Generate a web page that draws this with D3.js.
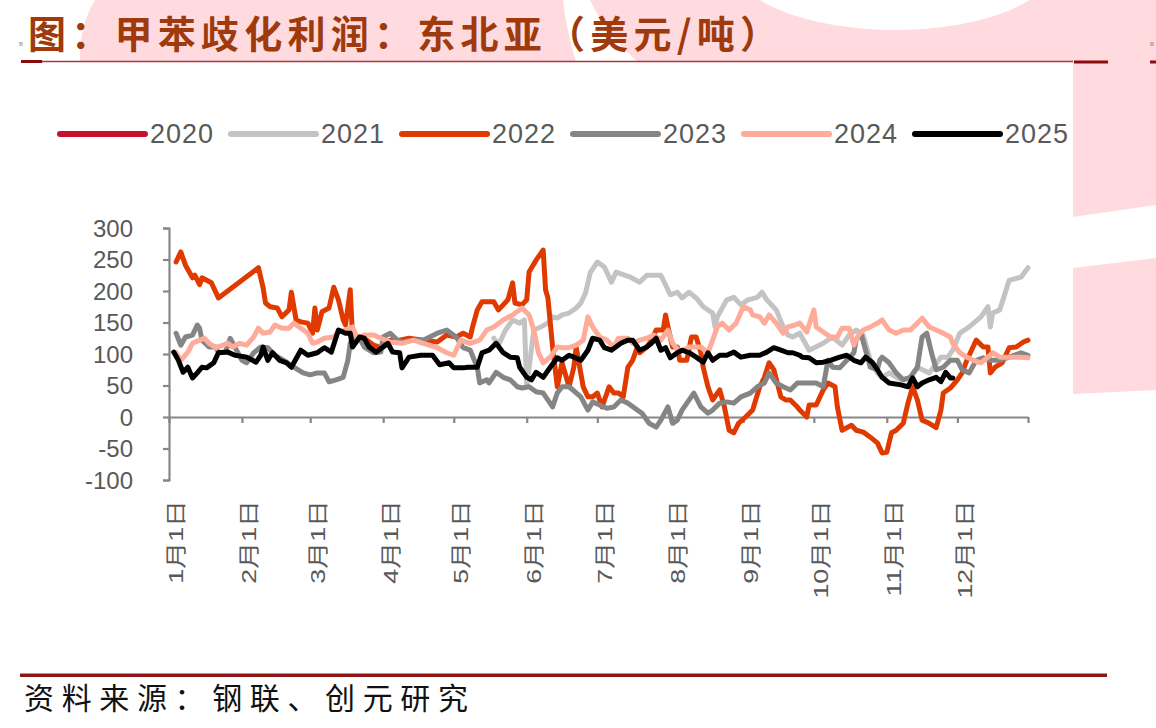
<!DOCTYPE html>
<html><head><meta charset="utf-8">
<script src="https://cdn.jsdelivr.net/npm/d3@7"></script>
<style>body{margin:0;background:#fff}svg{display:block}</style>
</head><body><svg id="c" width="1156" height="728"></svg>
<script>
const titleText = "图：甲苯歧化利润：东北亚（美元/吨）";
const sourceText = "资料来源：钢联、创元研究";
const years = ["2020","2021","2022","2023","2024","2025"];
const yTicks = [-100,-50,0,50,100,150,200,250,300];
const monthLabels = ["1月1日","2月1日","3月1日","4月1日","5月1日","6月1日","7月1日","8月1日","9月1日","10月1日","11月1日","12月1日"];
const monthStartDays = [0,31,60,91,121,152,182,213,244,274,305,335];
const yearEndDay = 365;

// [day of year, value]
const s2020 = [];
const s2021 = [[138,125],[140,114],[143,138],[146,154],[149,149],[151,154],[152,48],[155,138],[158,143],[161,149],[163,159],[165,157],[167,162],[170,165],[173,173],[175,181],[177,197],[179,229],[182,246],[185,238],[188,214],[190,230],[196,222],[200,214],[203,225],[209,225],[213,194],[216,198],[218,189],[221,198],[224,189],[227,175],[231,165],[232,143],[233,159],[237,186],[240,190],[243,178],[246,186],[250,190],[252,198],[254,186],[258,170],[261,143],[263,130],[265,127],[268,133],[272,106],[278,117],[282,127],[286,114],[289,130],[292,138],[295,130],[298,90],[301,70],[303,63],[306,70],[311,59],[315,63],[318,79],[323,70],[328,95],[331,95],[333,106],[336,133],[340,143],[345,159],[348,175],[349,143],[350,165],[353,170],[357,217],[362,222],[365,237]];
const s2022 = [[3,246],[5,262],[7,241],[10,221],[11,225],[13,210],[14,221],[18,213],[21,189],[38,237],[40,205],[41,181],[43,175],[46,173],[48,159],[51,170],[52,198],[54,154],[56,151],[59,149],[61,133],[62,173],[63,138],[65,167],[68,173],[70,206],[72,186],[74,154],[75,146],[77,202],[78,127],[81,127],[84,122],[87,114],[90,110],[94,122],[98,122],[102,125],[108,122],[114,119],[118,130],[122,127],[125,133],[128,127],[129,143],[131,170],[133,183],[138,183],[140,170],[142,178],[144,186],[146,213],[147,181],[150,178],[152,186],[153,230],[156,249],[159,265],[160,202],[161,189],[163,111],[165,48],[167,86],[170,48],[172,79],[173,111],[176,48],[178,32],[180,32],[182,38],[184,16],[187,48],[189,38],[191,38],[193,32],[195,79],[197,90],[199,111],[200,102],[203,111],[205,122],[207,138],[210,138],[211,162],[212,143],[214,111],[216,111],[217,90],[220,90],[222,127],[224,127],[226,102],[227,79],[229,48],[231,27],[234,43],[236,16],[238,-21],[240,-25],[242,-10],[245,0],[248,11],[251,48],[253,63],[255,86],[257,75],[260,32],[262,27],[264,27],[267,16],[268,11],[271,0],[272,19],[275,19],[278,43],[280,54],[283,48],[284,16],[286,-21],[290,-13],[292,-21],[295,-24],[298,-32],[301,-41],[303,-57],[305,-56],[307,-25],[309,-21],[312,-10],[314,22],[316,48],[318,27],[320,-5],[323,-10],[326,-17],[328,11],[329,38],[332,46],[335,59],[337,70],[339,90],[341,106],[343,122],[346,111],[348,111],[349,70],[351,79],[354,86],[357,110],[360,111],[363,119],[365,122]];
const s2023 = [[3,133],[5,114],[7,127],[10,130],[12,146],[13,141],[14,122],[17,111],[20,111],[21,102],[24,103],[26,125],[28,111],[31,90],[33,86],[36,102],[39,111],[42,110],[45,98],[50,87],[53,79],[57,70],[60,67],[63,70],[66,70],[68,56],[71,59],[74,63],[76,90],[77,117],[78,125],[81,125],[83,111],[87,102],[90,103],[91,127],[94,133],[97,122],[99,119],[104,122],[108,122],[114,133],[118,138],[122,127],[125,110],[128,106],[131,79],[132,54],[135,59],[136,54],[139,71],[142,63],[145,59],[148,48],[150,46],[153,48],[156,40],[159,38],[163,16],[165,38],[167,48],[170,48],[175,32],[178,11],[180,24],[183,19],[186,14],[189,16],[192,27],[195,22],[199,11],[201,6],[204,-10],[207,-16],[209,-5],[212,16],[214,-10],[216,-5],[218,11],[223,38],[226,16],[229,6],[231,11],[234,22],[237,24],[240,22],[243,32],[247,38],[250,48],[253,54],[255,70],[258,54],[261,48],[264,43],[267,54],[271,54],[275,54],[278,48],[280,90],[282,79],[285,78],[288,90],[291,102],[292,122],[294,133],[296,106],[298,79],[301,75],[302,90],[303,95],[306,86],[309,70],[312,59],[315,63],[318,79],[320,127],[322,133],[324,102],[326,75],[329,79],[332,90],[335,90],[337,75],[340,70],[343,90],[346,94],[349,90],[353,90],[357,95],[362,102],[365,98]];
const s2024 = [[3,102],[5,90],[8,103],[10,117],[13,122],[15,125],[17,117],[20,110],[23,114],[25,117],[27,111],[30,117],[33,114],[36,127],[38,141],[40,133],[43,135],[45,146],[48,141],[51,141],[53,149],[56,141],[59,133],[61,117],[63,119],[66,125],[70,127],[72,135],[75,138],[78,143],[80,125],[83,130],[87,130],[90,125],[94,119],[99,117],[104,122],[108,117],[114,110],[118,102],[121,98],[124,122],[128,117],[132,122],[135,138],[138,143],[142,154],[146,162],[150,173],[153,162],[155,138],[157,102],[159,86],[162,95],[165,111],[167,110],[170,110],[173,114],[176,122],[178,159],[180,143],[183,127],[186,122],[189,111],[191,125],[195,125],[197,117],[200,122],[203,125],[206,130],[209,122],[212,138],[214,117],[217,103],[221,111],[226,111],[229,102],[231,122],[233,143],[235,149],[238,138],[241,149],[244,175],[247,170],[248,162],[251,159],[253,149],[255,162],[258,149],[261,133],[263,143],[266,146],[268,149],[271,135],[274,170],[275,143],[278,135],[281,127],[284,127],[286,141],[289,141],[291,114],[293,130],[295,138],[298,143],[301,149],[303,154],[306,138],[309,133],[312,138],[315,138],[318,149],[320,157],[323,143],[326,138],[329,133],[332,127],[333,117],[336,102],[339,95],[342,90],[345,86],[348,95],[350,102],[353,95],[357,95],[362,95],[365,94]];
const s2025 = [[2,103],[4,90],[6,71],[8,79],[10,62],[12,70],[14,79],[16,78],[19,86],[21,102],[25,103],[28,98],[33,95],[37,87],[39,98],[40,111],[42,90],[44,102],[47,90],[50,86],[52,79],[56,106],[59,98],[63,102],[66,110],[69,103],[72,138],[75,133],[77,133],[78,111],[81,127],[83,125],[85,111],[88,103],[91,111],[93,117],[95,103],[98,102],[99,78],[102,95],[107,98],[112,98],[115,83],[119,86],[121,78],[125,78],[127,79],[131,79],[133,102],[136,106],[139,117],[142,102],[145,95],[148,94],[149,79],[152,63],[154,59],[156,71],[159,63],[162,79],[165,94],[167,90],[170,98],[172,95],[175,90],[178,106],[180,125],[183,122],[185,110],[188,106],[192,117],[195,122],[197,122],[200,106],[203,111],[205,117],[207,125],[209,106],[211,110],[213,94],[216,102],[218,106],[221,102],[224,95],[227,87],[229,102],[231,90],[234,98],[237,98],[240,103],[243,95],[247,98],[251,98],[254,103],[257,110],[260,106],[263,102],[265,102],[268,98],[269,95],[272,94],[275,86],[278,87],[281,90],[285,95],[288,98],[291,90],[294,86],[296,95],[299,86],[301,75],[303,63],[306,54],[311,51],[314,48],[316,62],[318,48],[320,54],[323,59],[326,63],[328,56],[330,71],[332,62],[333,62]];
const seriesData = [s2020,s2021,s2022,s2023,s2024,s2025];
const colors = ["#C8102E","#C3C3C3","#E03A00","#858585","#FFAB9A","#000000"];

const svg = d3.select("#c");
const pink = "#FFDADF";

// decorative background
svg.append("path").attr("fill",pink)
  .attr("d","M95,0 C84,18 79,40 80,62 L1156,62 L1156,0 Z");
svg.append("path").attr("fill","#fff")
  .attr("d","M563,0 L590,0 C600,22 618,45 638,62 L576,62 C570,42 565,20 563,0 Z");
svg.append("ellipse").attr("fill","#fff").attr("cx",895).attr("cy",-35).attr("rx",160).attr("ry",65);
svg.append("path").attr("fill",pink).attr("d","M1073,62 L1156,62 L1156,205 L1073,217 Z");
svg.append("path").attr("fill",pink).attr("d","M1073,268 L1156,258 L1156,390 L1073,394 Z");

// title
svg.append("text").attr("x",28).attr("y",31).attr("dominant-baseline","central")
  .attr("font-family","'Noto Sans CJK SC'").attr("font-weight",700)
  .attr("font-size",38).attr("fill","#9E3A0C")
  .attr("textLength",750).attr("lengthAdjust","spacing").text(titleText);
svg.append("text").attr("x",19).attr("y",46).attr("font-size",6).attr("fill","#888").attr("font-family","Liberation Sans").text("B");
svg.append("text").attr("x",1150).attr("y",46).attr("font-size",6).attr("fill","#888").attr("font-family","Liberation Sans").text("B");

// title rules
svg.append("line").attr("x1",21).attr("x2",1073).attr("y1",61.5).attr("y2",61.5).attr("stroke","#A8383C").attr("stroke-width",1.5);
svg.append("rect").attr("x",21).attr("y",60).attr("width",21).attr("height",3).attr("fill","#8B0A0A");
svg.append("rect").attr("x",1074).attr("y",60.5).attr("width",34).attr("height",3).attr("fill","#8B0A0A");
svg.append("rect").attr("x",1150).attr("y",60.5).attr("width",6).attr("height",3).attr("fill","#8B0A0A");

// scales
const x = d3.scaleLinear().domain([0,yearEndDay]).range([169,1028]);
const y = d3.scaleLinear().domain([-100,300]).range([480,228]);
const axisColor = "#878787";

// y axis
const gy = svg.append("g").attr("transform","translate(169,0)")
  .call(d3.axisLeft(y).tickValues(yTicks).tickSize(6).tickSizeOuter(6).tickFormat(""));
gy.selectAll("path,line").attr("stroke",axisColor).attr("stroke-width",2.2);
svg.append("g").selectAll("text").data(yTicks).join("text")
  .attr("x",133).attr("y",d=>y(d)).attr("text-anchor","end").attr("dominant-baseline","central")
  .attr("font-family","Liberation Sans, Arial").attr("font-size",24).attr("fill","#595959")
  .text(d=>d);

// x axis at zero
const gx = svg.append("g").attr("transform",`translate(0,${y(0)})`)
  .call(d3.axisBottom(x).tickValues(monthStartDays.concat([yearEndDay])).tickSize(6).tickSizeOuter(0).tickFormat(""));
gx.selectAll("path,line").attr("stroke",axisColor).attr("stroke-width",2.2);

svg.append("g").selectAll("text").data(monthLabels).join("text")
  .attr("transform",(d,i)=>`translate(${x(monthStartDays[i])+7},500) rotate(-90) scale(1.28,1)`)
  .attr("text-anchor","end").attr("dominant-baseline","central")
  .attr("font-family","Liberation Sans, 'Noto Sans CJK SC'").attr("font-size",21).attr("fill","#595959")
  .text(d=>d);

// lines
const line = d3.line().x(d=>x(d[0])).y(d=>y(d[1])).curve(d3.curveLinear);
svg.append("g").selectAll("path").data(seriesData).join("path")
  .attr("d",d=>d.length?line(d):null)
  .attr("fill","none").attr("stroke",(d,i)=>colors[i]).attr("stroke-width",5)
  .attr("stroke-linejoin","round").attr("stroke-linecap","round");

// legend
const legendX = [60,231,402,573,744,915];
const lg = svg.append("g").selectAll("g").data(years).join("g")
  .attr("transform",(d,i)=>`translate(${legendX[i]},134)`);
lg.append("line").attr("x1",0).attr("x2",85).attr("stroke",(d,i)=>colors[i]).attr("stroke-width",6).attr("stroke-linecap","round");
lg.append("text").attr("x",90).attr("dominant-baseline","central")
  .attr("font-family","Liberation Sans, Arial").attr("font-size",27).attr("letter-spacing",1).attr("fill","#595959")
  .text(d=>d);

// footer
svg.append("rect").attr("x",20).attr("y",673.5).attr("width",1087).attr("height",3.5).attr("fill","#8E1616");
svg.append("text").attr("x",24).attr("y",696).attr("dominant-baseline","central")
  .attr("font-family","'Noto Sans CJK SC'").attr("font-size",30).attr("fill","#111")
  .attr("textLength",444).attr("lengthAdjust","spacing").text(sourceText);
</script></body></html>
